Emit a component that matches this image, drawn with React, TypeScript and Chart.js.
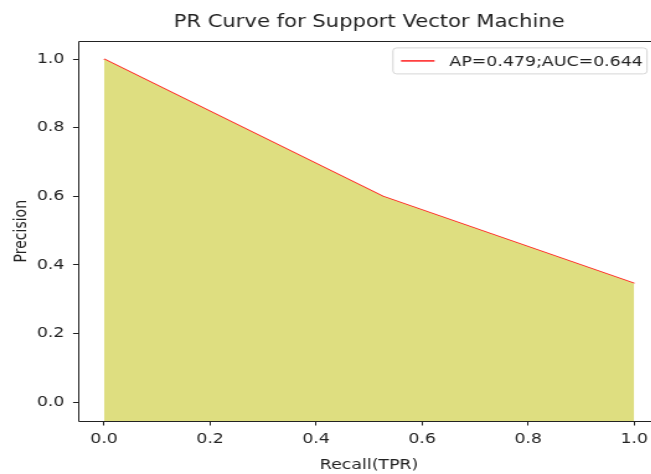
import React, { useEffect, useRef } from "react";
import { Chart, registerables } from "chart.js";

Chart.register(...registerables);

const recall = [0.0, 0.526, 1.0];
const precision = [1.0, 0.6, 0.346];
const xTicks = [0.0, 0.2, 0.4, 0.6, 0.8, 1.0];
const yTicks = [0.0, 0.2, 0.4, 0.6, 0.8, 1.0];
const seriesLabel = "AP=0.479;AUC=0.644";
const titleText = "PR Curve for Support Vector Machine";
const xLabel = "Recall(TPR)";
const yLabel = "Precision";

const FONT = "'DejaVu Sans', sans-serif";
// the reference is stretched horizontally; the canvas is drawn narrower and widened by CSS
const STRETCH = 1.24;
const INNER_W = 545;
const H = 474;

const frameAndLegend = {
  id: "frameAndLegend",
  afterDraw(chart: any) {
    const { ctx, chartArea } = chart;
    ctx.save();
    ctx.strokeStyle = "#222";
    ctx.lineWidth = 1;
    const l = Math.round(chartArea.left) + 0.5;
    const t = Math.round(chartArea.top) + 0.5;
    const b = Math.round(chartArea.bottom) + 0.5;
    const r = chart.width;
    ctx.beginPath();
    ctx.moveTo(r, t);
    ctx.lineTo(l, t);
    ctx.lineTo(l, b);
    ctx.lineTo(r, b);
    ctx.stroke();
    // legend
    const ds = chart.data.datasets[1];
    const fs = 14;
    ctx.font = `${fs}px ${FONT}`;
    const tw = ctx.measureText(ds.label).width;
    const boxH = 26;
    const boxRight = chartArea.right - 11;
    const textRight = boxRight - 3.4;
    const textLeft = textRight - tw;
    const lineEnd = textLeft - 12;
    const lineStart = lineEnd - 27;
    const boxLeft = lineStart - 6.5;
    const boxTop = chartArea.top + 6;
    ctx.fillStyle = "rgba(255,255,255,0.8)";
    ctx.strokeStyle = "#d6d6d6";
    ctx.lineWidth = 1;
    ctx.beginPath();
    (ctx as any).roundRect(boxLeft, boxTop + 0.5, boxRight - boxLeft, boxH, 3);
    ctx.fill();
    ctx.stroke();
    const cy = boxTop + boxH / 2 + 0.5;
    ctx.strokeStyle = ds.borderColor;
    ctx.lineWidth = 1.5;
    ctx.beginPath();
    ctx.moveTo(lineStart, cy);
    ctx.lineTo(lineEnd, cy);
    ctx.stroke();
    ctx.fillStyle = "#222";
    ctx.textBaseline = "middle";
    ctx.textAlign = "left";
    ctx.fillText(ds.label, textLeft, cy + 1);
    ctx.restore();
  },
};

export default function App() {
  const ref = useRef<HTMLCanvasElement | null>(null);
  useEffect(() => {
    if (!ref.current) return;
    const pts = recall.map((r, i) => ({ x: r, y: precision[i] }));
    const chart = new Chart(ref.current, {
      type: "line",
      data: {
        datasets: [
          {
            label: "fill",
            data: pts,
            borderWidth: 0,
            pointRadius: 0,
            backgroundColor: "rgb(222,222,128)",
            fill: "start",
          } as any,
          {
            label: seriesLabel,
            data: pts,
            borderColor: "rgb(255,30,30)",
            borderWidth: 1.5,
            pointRadius: 0,
            fill: false,
          },
        ],
      },
      plugins: [frameAndLegend],
      options: {
        animation: false,
        responsive: false,
        layout: { padding: { left: 0, right: INNER_W - 660.5 / STRETCH, top: 0, bottom: 0 } },
        plugins: {
          legend: { display: false },
          tooltip: { enabled: false },
          title: {
            display: true,
            text: titleText,
            fullSize: false,
            color: "#222",
            font: { family: FONT, size: 17, weight: "normal" },
            padding: { top: 12, bottom: 9 },
          },
        },
        scales: {
          x: {
            type: "linear",
            min: -0.05,
            max: 1.05,
            afterBuildTicks: (s: any) => {
              s.ticks = xTicks.map((v) => ({ value: v }));
            },
            afterFit: (s: any) => {
              s.height = 53;
            },
            ticks: {
              color: "#222",
              font: { family: FONT, size: 14 },
              padding: 5,
              maxRotation: 0,
              callback: (v: any) => Number(v).toFixed(1),
            },
            grid: {
              display: true,
              drawOnChartArea: false,
              drawTicks: true,
              tickLength: 4.5,
              color: "#222",
            },
            border: { display: false },
            title: {
              display: true,
              text: xLabel,
              color: "#222",
              font: { family: FONT, size: 14 },
              padding: { top: 2, bottom: 0 },
            },
          },
          y: {
            type: "linear",
            min: -0.055,
            max: 1.052,
            afterBuildTicks: (s: any) => {
              s.ticks = yTicks.map((v) => ({ value: v }));
            },
            afterFit: (s: any) => {
              s.width = 77.5 / STRETCH;
            },
            ticks: {
              color: "#222",
              font: { family: FONT, size: 14 },
              padding: 7,
              callback: (v: any) => Number(v).toFixed(1),
            },
            grid: {
              display: true,
              drawOnChartArea: false,
              drawTicks: true,
              tickLength: 3.6,
              color: "#222",
            },
            border: { display: false },
            title: {
              display: true,
              text: yLabel,
              color: "#222",
              font: { family: FONT, size: 14 },
              padding: { top: 8.5, bottom: 0 },
            },
          },
        },
      },
    });
    return () => chart.destroy();
  }, []);
  return (
    <div
      style={{
        position: "absolute",
        left: 0,
        top: 0,
        width: 651,
        height: H,
        overflow: "hidden",
        background: "#fff",
      }}
    >
      <canvas
        ref={ref}
        width={INNER_W}
        height={H}
        style={{ display: "block", width: INNER_W * STRETCH + "px", height: H + "px" }}
      />
    </div>
  );
}
